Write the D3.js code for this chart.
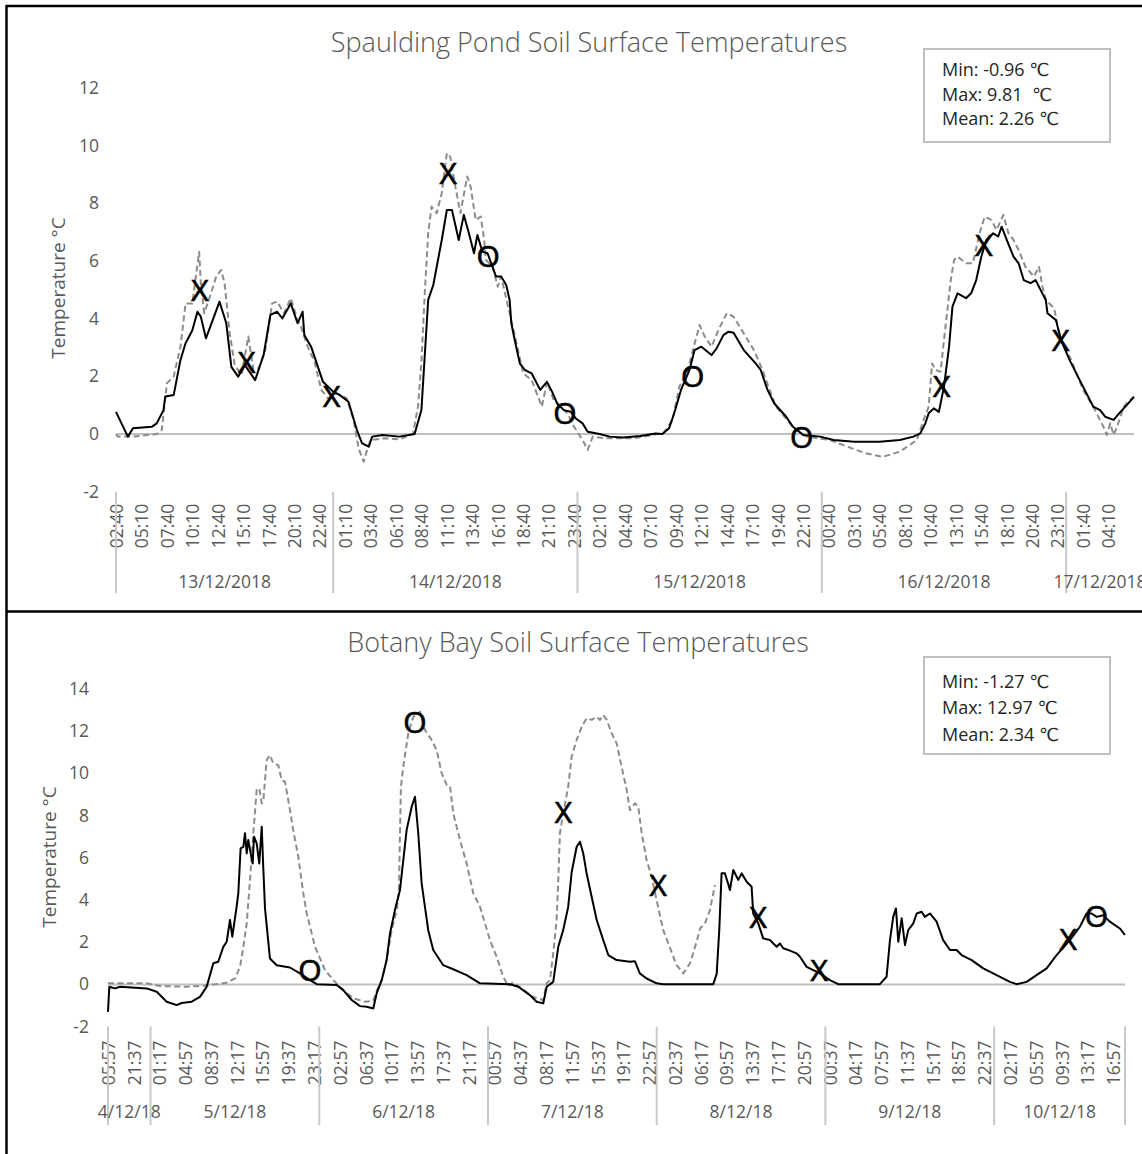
<!DOCTYPE html>
<html>
<head>
<meta charset="utf-8">
<script src="https://cdn.jsdelivr.net/npm/d3@7"></script>
<style>
  html, body { margin: 0; padding: 0; background: #fff; }
  svg { display: block; font-family: "Open Sans", "DejaVu Sans", sans-serif; }
</style>
</head>
<body>
<svg id="chart" width="1142" height="1154"></svg>
<script>
// ---------- Spaulding Pond (13/12/2018 - 17/12/2018, 10 min logger) ----------
const pondTimeLabels = ["02:40","05:10","07:40","10:10","12:40","15:10","17:40","20:10","22:40",
  "01:10","03:40","06:10","08:40","11:10","13:40","16:10","18:40","21:10","23:40",
  "02:10","04:40","07:10","09:40","12:10","14:40","17:10","19:40","22:10",
  "00:40","03:10","05:40","08:10","10:40","13:10","15:40","18:10","20:40","23:10",
  "01:40","04:10"];
const pondDays = ["13/12/2018","14/12/2018","15/12/2018","16/12/2018","17/12/2018"];
const pondDayStarts = ["13 02:40","14 00:00","15 00:00","16 00:00","17 00:00"];
const pondYTicks = [-2, 0, 2, 4, 6, 8, 10, 12];
const pondStats = ["Min: -0.96 ℃", "Max: 9.81  ℃", "Mean: 2.26 ℃"];

// solid black series
const pondSolid = [
  ["13 02:40",0.77],["13 03:50",-0.09],["13 04:20",0.2],["13 06:10",0.25],["13 06:40",0.37],["13 07:20",0.83],
  ["13 07:30",1.3],["13 08:20",1.35],["13 09:00",2.57],["13 09:30",3.15],["13 10:10",3.6],["13 10:40",4.24],
  ["13 11:00",4.07],["13 11:30",3.32],["13 12:10",3.95],["13 12:50",4.59],["13 13:30",3.84],["13 14:00",2.33],
  ["13 14:40",1.99],["13 15:20",2.39],["13 16:20",1.87],["13 17:10",2.74],["13 17:50",4.13],["13 18:30",4.24],
  ["13 19:00",4.01],["13 19:50",4.53],["13 20:30",3.84],["13 21:00",4.24],["13 21:10",3.43],["13 21:50",3.03],
  ["13 22:30",2.33],["13 23:00",1.81],["14 00:00",1.47],["14 00:40",1.35],["14 01:30",1.12],["14 02:20",0.14],
  ["14 02:50",-0.32],["14 03:30",-0.44],["14 03:50",-0.09],["14 04:50",-0.03],["14 06:30",-0.09],["14 08:00",0],
  ["14 08:40",0.83],["14 09:20",4.65],["14 09:50",5.17],["14 10:40",6.73],["14 11:10",7.77],["14 11:40",7.77],
  ["14 12:20",6.73],["14 12:50",7.6],["14 13:20",6.96],["14 13:50",6.27],["14 14:10",6.9],["14 14:40",6.32],
  ["14 15:10",6.27],["14 16:00",5.46],["14 16:30",5.46],["14 17:00",5.17],["14 17:20",4.65],["14 17:30",3.84],
  ["14 17:50",3.26],["14 18:20",2.45],["14 18:50",2.22],["14 19:30",2.1],["14 20:20",1.53],["14 21:00",1.81],
  ["14 21:30",1.47],["14 22:00",1.06],["14 22:40",0.83],["14 23:20",0.77],["14 23:50",0.54],["15 00:30",0.37],
  ["15 01:00",0.08],["15 02:10",0],["15 03:10",-0.09],["15 04:30",-0.12],["15 06:10",-0.07],["15 07:40",0.02],
  ["15 08:20",0],["15 09:00",0.2],["15 09:30",0.72],["15 10:10",1.53],["15 11:00",2.22],["15 11:30",2.91],
  ["15 12:10",3.03],["15 13:10",2.74],["15 13:40",2.97],["15 14:20",3.43],["15 14:50",3.55],["15 15:20",3.51],
  ["15 16:20",2.91],["15 17:30",2.45],["15 18:00",2.22],["15 18:40",1.53],["15 19:20",1.06],["15 20:30",0.6],
  ["15 21:10",0.25],["15 22:10",-0.03],["15 23:50",-0.09],["16 01:10",-0.21],["16 03:10",-0.27],["16 05:40",-0.27],
  ["16 07:40",-0.21],["16 09:00",-0.09],["16 09:40",0.02],["16 10:10",0.37],["16 10:30",0.72],["16 11:00",0.89],
  ["16 11:30",0.77],["16 12:00",1.64],["16 12:30",3.03],["16 12:50",4.42],["16 13:20",4.88],["16 14:10",4.71],
  ["16 14:40",4.88],["16 15:10",5.34],["16 15:40",6.15],["16 16:10",6.73],["16 16:50",6.96],["16 17:20",6.85],
  ["16 17:40",7.19],["16 18:10",6.73],["16 18:50",6.15],["16 19:20",5.92],["16 19:50",5.34],["16 20:30",5.23],
  ["16 21:00",5.34],["16 21:30",4.99],["16 22:00",4.65],["16 22:10",4.19],["16 23:00",3.95],["16 23:30",3.26],
  ["17 00:20",2.57],["17 01:20",1.87],["17 02:40",0.95],["17 03:20",0.83],["17 03:50",0.6],["17 04:40",0.49],
  ["17 05:20",0.77],["17 06:00",1.02],["17 06:40",1.29]
];

// dashed grey series
const pondDashed = [
  ["13 02:40",0],["13 02:50",-0.09],["13 04:20",-0.09],["13 06:40",0],["13 07:10",0.14],["13 07:40",1.76],
  ["13 08:20",1.99],["13 09:00",3.03],["13 09:30",4.53],["13 10:10",4.53],["13 10:50",6.32],["13 11:00",5.23],
  ["13 11:20",4.19],["13 12:00",4.88],["13 12:30",5.46],["13 13:00",5.69],["13 13:20",5.23],["13 13:50",3.49],
  ["13 14:20",2.39],["13 15:00",2.05],["13 15:40",3.38],["13 16:10",2.22],["13 16:40",2.28],["13 17:20",2.91],
  ["13 18:00",4.53],["13 18:30",4.59],["13 19:10",4.19],["13 19:50",4.71],["13 20:30",3.95],["13 20:50",3.72],
  ["13 21:30",3.03],["13 22:10",2.51],["13 22:50",1.53],["13 23:30",1.24],["14 00:20",1.41],["14 01:20",1.24],
  ["14 02:00",0.49],["14 02:30",-0.5],["14 03:00",-0.96],["14 03:20",-0.55],["14 03:40",-0.21],["14 05:00",-0.15],
  ["14 06:30",-0.18],["14 07:50",0],["14 08:20",0.95],["14 08:40",2.5],["14 09:00",4.9],["14 09:20",6.96],
  ["14 09:40",7.89],["14 10:10",7.66],["14 10:40",8.35],["14 11:10",9.74],["14 11:30",9.62],["14 12:00",8.58],
  ["14 12:30",7.66],["14 13:10",8.93],["14 13:30",8.58],["14 14:00",7.42],["14 14:30",7.54],["14 14:50",6.73],
  ["14 15:00",6.04],["14 15:40",5.8],["14 16:10",5.11],["14 16:30",5.46],["14 17:50",3.43],["14 18:40",2.1],
  ["14 19:30",1.87],["14 20:30",0.95],["14 21:00",1.81],["14 21:40",1.18],["14 22:20",0.95],["14 23:00",0.72],
  ["14 23:40",0.25],["15 00:30",-0.21],["15 01:00",-0.55],["15 01:30",-0.09],["15 02:50",-0.15],["15 05:30",-0.15],
  ["15 07:30",-0.03],["15 08:30",0.05],["15 09:20",0.49],["15 10:00",1.64],["15 10:50",2.22],["15 11:20",2.91],
  ["15 12:00",3.78],["15 12:30",3.38],["15 13:10",3.03],["15 13:50",3.6],["15 14:40",4.19],["15 15:20",4.07],
  ["15 16:20",3.49],["15 17:20",2.91],["15 18:10",2.22],["15 19:00",1.41],["15 19:30",0.95],["15 21:10",0.25],
  ["15 22:30",-0.09],["16 00:50",-0.21],["16 02:30",-0.44],["16 04:20",-0.67],["16 06:00",-0.79],["16 07:40",-0.61],
  ["16 09:20",-0.21],["16 10:00",0.49],["16 10:30",0.95],["16 10:50",2.45],["16 11:10",2.22],["16 11:40",2.16],
  ["16 12:00",3.26],["16 12:20",4.3],["16 12:40",5.34],["16 13:00",6.04],["16 13:20",6.15],["16 14:10",5.92],
  ["16 14:50",5.92],["16 15:30",6.96],["16 16:00",7.54],["16 16:40",7.42],["16 17:10",7.08],["16 17:50",7.6],
  ["16 18:20",6.96],["16 18:50",6.73],["16 19:20",6.38],["16 20:00",5.8],["16 20:50",5.46],["16 21:20",5.8],
  ["16 21:40",5.11],["16 22:00",4.65],["16 22:50",4.36],["16 23:10",3.72],["16 23:30",3.26],["17 00:30",2.57],
  ["17 01:40",1.53],["17 02:50",0.83],["17 03:40",0.25],["17 04:00",-0.03],["17 04:20",0.37],["17 04:40",-0.03],
  ["17 05:00",0.25],["17 05:40",0.95],["17 06:00",1.1],["17 06:40",1.29]
];

const pondMarks = [
  ["13 10:55",5.0,"X"],["13 15:30",2.5,"X"],["13 23:51",1.3,"X"],["14 11:18",9.04,"X"],
  ["14 15:14",6.15,"O"],["14 22:46",0.72,"O"],["15 11:19",2.0,"O"],["15 22:01",-0.1,"O"],
  ["16 11:47",1.66,"X"],["16 15:56",6.55,"X"],["16 23:28",3.26,"X"]
];

// ---------- Botany Bay (4/12/18 - 10/12/18, 20 min logger) ----------
// first reading carries the label 05:57; it sits one step before 18:17 on the category axis
const botanyTimeLabels = ["05:57","21:37","01:17","04:57","08:37","12:17","15:57","19:37","23:17",
  "02:57","06:37","10:17","13:57","17:37","21:17","00:57","04:37","08:17","11:57","15:37",
  "19:17","22:57","02:37","06:17","09:57","13:37","17:17","20:57","00:37","04:17","07:57",
  "11:37","15:17","18:57","22:37","02:17","05:57","09:37","13:17","16:57"];
const botanyDays = ["4/12/18","5/12/18","6/12/18","7/12/18","8/12/18","9/12/18","10/12/18"];
const botanyDayStarts = ["4 17:57","5 00:00","6 00:00","7 00:00","8 00:00","9 00:00","10 00:00"];
const botanyYTicks = [-2, 0, 2, 4, 6, 8, 10, 12, 14];
const botanyStats = ["Min: -1.27 ℃", "Max: 12.97 ℃", "Mean: 2.34 ℃"];

const botanySolid = [
  ["4 17:57",-1.3],["4 18:08",-0.11],["4 18:57",-0.19],["4 19:39",-0.11],["4 23:27",-0.19],["5 00:53",-0.35],
  ["5 02:18",-0.82],["5 03:43",-0.98],["5 04:26",-0.88],["5 05:51",-0.82],["5 07:02",-0.59],["5 07:59",-0.11],
  ["5 08:56",1.0],["5 09:38",1.07],["5 10:21",1.78],["5 10:50",2.02],["5 11:18",3.05],["5 11:38",2.26],
  ["5 12:15",3.68],["5 12:29",4.31],["5 12:49",6.45],["5 13:12",6.52],["5 13:26",7.16],["5 13:41",6.21],
  ["5 13:54",6.84],["5 14:15",6.21],["5 14:32",5.73],["5 14:43",7.0],["5 15:06",6.68],["5 15:28",5.73],
  ["5 15:49",7.47],["5 16:02",5.57],["5 16:17",3.6],["5 16:59",1.23],["5 17:57",0.91],["5 19:50",0.8],
  ["5 21:15",0.52],["5 22:41",0.2],["5 23:38",0.01],["6 02:29",-0.03],["6 03:25",-0.27],["6 04:37",-0.74],
  ["6 05:48",-1.03],["6 06:45",-1.06],["6 07:41",-1.14],["6 08:10",-0.43],["6 08:53",0.2],["6 09:35",1.15],
  ["6 10:04",2.42],["6 10:46",3.52],["6 11:29",4.47],["6 12:26",7.32],["6 13:09",8.42],["6 13:37",8.89],
  ["6 14:05",7.16],["6 14:34",4.79],["6 15:30",2.57],["6 16:13",1.63],["6 17:38",0.91],["6 19:18",0.68],
  ["6 20:58",0.44],["6 22:52",0.05],["7 03:08",0.01],["7 04:19",-0.11],["7 05:58",-0.51],["7 06:55",-0.82],
  ["7 07:52",-0.9],["7 08:21",-0.11],["7 09:17",0.12],["7 10:00",1.78],["7 10:42",2.57],["7 11:25",3.68],
  ["7 11:54",5.3],["7 12:37",6.52],["7 13:05",6.76],["7 13:33",6.21],["7 14:02",5.26],["7 14:45",4.15],
  ["7 15:28",3.05],["7 16:24",2.1],["7 17:07",1.39],["7 18:18",1.15],["7 20:12",1.07],["7 20:54",1.1],
  ["7 21:36",0.52],["7 22:34",0.28],["7 23:59",0.05],["8 00:56",0.01],["8 08:03",0.01],["8 08:32",0.5],
  ["8 08:54",2.57],["8 09:14",5.26],["8 09:42",5.26],["8 10:11",4.75],["8 10:25",4.47],["8 10:54",5.42],
  ["8 11:36",4.95],["8 12:05",5.26],["8 12:48",4.86],["8 13:30",4.63],["8 13:44",3.36],["8 14:27",2.89],
  ["8 15:09",2.18],["8 16:06",2.1],["8 17:04",1.78],["8 17:32",1.94],["8 18:00",1.71],["8 18:57",1.6],
  ["8 19:54",1.47],["8 20:23",1.31],["8 21:20",0.83],["8 23:13",0.52],["9 00:39",0.2],["9 01:49",0.01],
  ["9 07:45",0.01],["9 08:42",0.36],["9 09:11",2.1],["9 09:39",3.2],["9 10:02",3.6],["9 10:22",2.02],
  ["9 10:51",3.13],["9 11:19",1.86],["9 11:47",2.57],["9 12:30",2.89],["9 12:59",3.36],["9 13:41",3.44],
  ["9 14:09",3.2],["9 14:52",3.36],["9 15:49",2.97],["9 16:45",2.1],["9 17:43",1.63],["9 18:40",1.63],
  ["9 19:22",1.39],["9 20:48",1.15],["9 22:27",0.76],["10 00:21",0.44],["10 02:15",0.12],["10 03:12",0.01],
  ["10 04:37",0.12],["10 06:02",0.44],["10 07:28",0.76],["10 08:53",1.39],["10 10:47",2.1],["10 12:12",2.73],
  ["10 13:09",3.36],["10 13:52",3.36],["10 14:35",3.2],["10 15:31",3.28],["10 16:28",2.97],["10 17:53",2.65],
  ["10 18:36",2.34]
];

const botanyDashed = [
  ["4 17:57",0.05],["4 23:27",0.05],["5 01:21",-0.08],["5 05:09",-0.11],["5 07:59",-0.05],["5 10:50",0.08],
  ["5 12:01",0.28],["5 12:44",0.83],["5 13:12",1.78],["5 13:41",2.89],["5 14:03",4.5],["5 14:37",7.16],
  ["5 15:06",9.21],["5 15:28",9.29],["5 15:49",8.58],["5 16:02",8.65],["5 16:31",10.63],["5 16:59",10.87],
  ["5 17:28",10.47],["5 18:10",10.39],["5 18:39",9.68],["5 19:08",9.6],["5 19:50",8.26],["5 20:18",7.31],
  ["5 21:01",6.05],["5 21:44",4.31],["5 22:13",3.36],["5 23:24",1.78],["6 00:49",0.68],["6 02:00",0.2],
  ["6 03:25",-0.27],["6 04:50",-0.66],["6 06:30",-0.82],["6 07:41",-0.78],["6 08:10",-0.3],["6 08:53",0.2],
  ["6 09:35",1.15],["6 10:18",2.57],["6 11:01",3.52],["6 11:20",4.47],["6 11:37",9.37],["6 11:57",10.31],
  ["6 12:40",11.9],["6 13:23",12.68],["6 14:20",12.92],["6 15:02",12.05],["6 15:59",11.58],["6 16:42",11.1],
  ["6 17:25",10.0],["6 18:08",9.45],["6 18:36",9.4],["6 19:04",8.1],["6 20:01",6.84],["6 20:58",5.73],
  ["6 21:55",4.31],["6 22:52",3.68],["7 00:17",2.1],["7 01:14",1.31],["7 02:10",0.36],["7 02:53",-0.08],
  ["7 03:36",0.1],["7 04:19",-0.08],["7 06:27",-0.6],["7 07:09",-0.66],["7 07:52",-0.75],["7 08:21",0.05],
  ["7 08:49",0.2],["7 09:17",1.47],["7 09:46",3.05],["7 10:00",4.95],["7 10:14",7.16],["7 10:42",8.1],
  ["7 11:25",9.37],["7 11:54",10.79],["7 12:37",11.58],["7 13:20",12.21],["7 14:02",12.61],["7 14:45",12.53],
  ["7 15:28",12.68],["7 15:56",12.53],["7 16:24",12.76],["7 16:53",12.53],["7 17:36",11.9],["7 18:18",11.42],
  ["7 19:01",10.31],["7 19:44",9.21],["7 20:12",8.26],["7 20:54",8.58],["7 21:23",8.42],["7 21:52",7.16],
  ["7 22:34",5.89],["7 23:17",5.1],["7 23:59",4.0],["8 00:56",2.57],["8 01:39",1.94],["8 02:50",0.91],
  ["8 03:47",0.52],["8 04:44",1.0],["8 05:41",2.02],["8 06:10",2.65],["8 06:52",2.89],["8 07:35",3.52],
  ["8 08:17",4.71]
];

const botanyMarks = [
  ["5 22:41",0.65,"O"],["6 13:37",12.4,"O"],["7 10:43",8.18,"X"],["8 00:13",4.7,"X"],
  ["8 14:27",3.17,"X"],["8 23:07",0.65,"X"],["10 10:32",2.13,"X"],["10 14:34",3.24,"O"]
];

// ---------- drawing ----------
const parse = s => {
  const [d, hm] = s.split(" ");
  const [h, m] = hm.split(":");
  return new Date(2018, 11, +d, +h, +m);
};
const fmtTick = d => (d < 0 ? "-" + (-d) : String(d));

const svg = d3.select("#chart");

function drawPanel(p) {
  const x = d3.scaleTime().domain([parse(p.start), parse(p.end)]).range([p.left, p.right]);
  const y = d3.scaleLinear().domain([p.yTicks[0], p.yTicks[p.yTicks.length - 1]]).range([p.bottom, p.top]);
  const g = svg.append("g");

  // title
  g.append("text")
    .attr("x", p.titleX).attr("y", p.titleY)
    .attr("text-anchor", "middle")
    .attr("font-size", 27).attr("font-weight", 300)
    .attr("fill", "#595959")
    .text(p.title);

  // y tick labels (no axis line)
  g.append("g")
    .attr("transform", `translate(${p.yLabelX},0)`)
    .call(d3.axisLeft(y).tickValues(p.yTicks).tickFormat(fmtTick).tickSize(0).tickPadding(0))
    .call(a => a.select(".domain").remove())
    .attr("font-family", null).attr("font-size", 17.5).attr("color", "#595959");

  g.append("text")
    .attr("transform", `translate(${p.yTitleX},${p.yTitleY}) rotate(-90)`)
    .attr("text-anchor", "middle")
    .attr("font-size", 19).attr("fill", "#595959")
    .text("Temperature °C");

  // horizontal axis sits on 0
  g.append("line")
    .attr("x1", p.left).attr("x2", p.right)
    .attr("y1", y(0)).attr("y2", y(0))
    .attr("stroke", "#bfbfbf").attr("stroke-width", 2);

  // time labels every n categories, rotated
  const tickDates = p.timeLabels.map((_, k) => d3.timeMinute.offset(parse(p.start), k * p.tickStep));
  g.append("g")
    .attr("transform", `translate(0,${p.bottom})`)
    .call(d3.axisBottom(x).tickValues(tickDates).tickFormat((d, i) => p.timeLabels[i]).tickSize(0))
    .call(a => a.select(".domain").remove())
    .attr("font-family", null).attr("font-size", 17.5).attr("color", "#595959")
    .selectAll("text")
      .attr("transform", "rotate(-90)")
      .attr("text-anchor", "end")
      .attr("x", -p.labelGap).attr("y", 0).attr("dy", "0.36em");

  // day groups
  const starts = p.dayStarts.map(parse);
  const ends = starts.slice(1).concat([parse(p.end)]);
  const seps = p.endSep ? starts.concat([parse(p.end)]) : starts;
  g.selectAll(".sep").data(seps).join("line")
    .attr("x1", d => x(d)).attr("x2", d => x(d))
    .attr("y1", p.bottom).attr("y2", p.sepBottom)
    .attr("stroke", "#c8c8c8").attr("stroke-width", 2);
  g.selectAll(".day").data(p.days).join("text")
    .attr("x", (d, i) => (x(starts[i]) + x(ends[i])) / 2)
    .attr("y", p.dayY)
    .attr("text-anchor", "middle")
    .attr("font-size", 17.5).attr("fill", "#595959")
    .text(d => d);

  // series
  const line = d3.line().x(d => x(parse(d[0]))).y(d => y(d[1]));
  g.append("path").datum(p.dashed)
    .attr("d", line).attr("fill", "none")
    .attr("stroke", "#8c8c8c").attr("stroke-width", 2)
    .attr("stroke-dasharray", "6,3.5").attr("stroke-linejoin", "round");
  g.append("path").datum(p.solid)
    .attr("d", line).attr("fill", "none")
    .attr("stroke", "#000").attr("stroke-width", 2)
    .attr("stroke-linejoin", "round");

  // hand-placed X / O annotations
  g.selectAll(".mark").data(p.marks).join("text")
    .attr("x", d => x(parse(d[0]))).attr("y", d => y(d[1]))
    .attr("dy", "0.36em")
    .attr("text-anchor", "middle")
    .attr("font-size", 30).attr("fill", "#000")
    .attr("stroke", "#000").attr("stroke-width", 0.7)
    .text(d => d[2]);

  // stats box
  g.append("rect")
    .attr("x", p.box[0]).attr("y", p.box[1]).attr("width", p.box[2]).attr("height", p.box[3])
    .attr("fill", "#fff").attr("stroke", "#bfbfbf").attr("stroke-width", 2);
  g.selectAll(".stat").data(p.stats).join("text")
    .attr("x", p.box[0] + 18)
    .attr("y", (d, i) => p.statY[i])
    .attr("font-size", 18).attr("fill", "#262626")
    .style("white-space", "pre")
    .text(d => d);
}

drawPanel({
  title: "Spaulding Pond Soil Surface Temperatures", titleX: 589, titleY: 52,
  start: "13 02:40", end: "17 06:40", left: 116, right: 1134,
  top: 88, bottom: 491.7, yTicks: pondYTicks, yLabelX: 99,
  yTitleX: 65, yTitleY: 288,
  timeLabels: pondTimeLabels, tickStep: 150, labelGap: 12,
  days: pondDays, dayStarts: pondDayStarts, endSep: false, sepBottom: 593, dayY: 588,
  solid: pondSolid, dashed: pondDashed, marks: pondMarks,
  stats: pondStats, box: [924, 49, 186, 93], statY: [76, 100.5, 125]
});

drawPanel({
  title: "Botany Bay Soil Surface Temperatures", titleX: 578, titleY: 652,
  start: "4 17:57", end: "10 18:37", left: 108, right: 1125,
  top: 688.9, bottom: 1026.6, yTicks: botanyYTicks, yLabelX: 89,
  yTitleX: 56, yTitleY: 857,
  timeLabels: botanyTimeLabels, tickStep: 220, labelGap: 14,
  days: botanyDays, dayStarts: botanyDayStarts, endSep: true, sepBottom: 1125, dayY: 1118,
  solid: botanySolid, dashed: botanyDashed, marks: botanyMarks,
  stats: botanyStats, box: [924, 657, 186, 97], statY: [688, 714, 741]
});

// outer frame and divider
svg.append("g").attr("stroke", "#000").attr("stroke-width", 2.5)
  .selectAll("line")
  .data([[6, 6, 1142, 6], [6.5, 5, 6.5, 1154], [6, 611.5, 1142, 611.5]])
  .join("line")
  .attr("x1", d => d[0]).attr("y1", d => d[1]).attr("x2", d => d[2]).attr("y2", d => d[3]);
</script>
</body>
</html>
